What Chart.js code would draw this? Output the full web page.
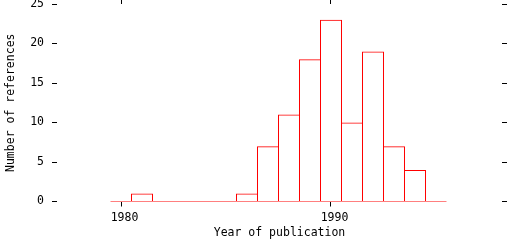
<!DOCTYPE html>
<html>
<head>
<meta charset="utf-8">
<title>References by year</title>
<script src="https://cdn.jsdelivr.net/npm/chart.js@4/dist/chart.umd.min.js"></script>
<style>
    html, body { margin: 0; padding: 0; background: #fff; }
    #wrap { width: 512px; height: 240px; }
</style>
</head>
<body>
<div id="wrap"><canvas id="histChart" width="512" height="240"></canvas></div>
<script>
// histogram data, one bin per year
const years = [1980, 1981, 1982, 1983, 1984, 1985, 1986, 1987, 1988, 1989, 1990, 1991, 1992, 1993, 1994, 1995];
const counts = [0, 1, 0, 0, 0, 0, 1, 7, 11, 18, 23, 10, 19, 7, 4, 0];
const yearTicks = [1980, 1990];
const countTicks = [0, 5, 10, 15, 20, 25];
const yearMin = 1976.95238;
const yearMax = 1998.14286;
const countMax = 25;

const RED = '#ff0000';
const INK = '#000000';
const monoFont = { family: '"DejaVu Sans Mono", "Liberation Mono", monospace', size: 11.5 };

function fixedTicks(list) {
    return scale => { scale.ticks = list.map(v => ({ value: v })); };
}

function tickGrid(len) {
    return { offset: false, drawOnChartArea: false, drawTicks: true, tickLength: len, color: INK, lineWidth: 1 };
}

function initChart() {
    const ctx = document.getElementById('histChart').getContext('2d');
    new Chart(ctx, {
        type: 'bar',
        data: {
            datasets: [
                {
                    type: 'bar',
                    data: years.map((yr, i) => ({ x: yr, y: counts[i] })),
                    backgroundColor: 'rgba(0,0,0,0)',
                    borderColor: RED,
                    borderWidth: 1,
                    borderSkipped: 'start',
                    inflateAmount: 0,
                    barThickness: 22,
                    xAxisID: 'x',
                    yAxisID: 'y'
                },
                {
                    // zero line under the bins
                    type: 'line',
                    data: [
                        { x: years[0] - 0.5, y: 0 },
                        { x: years[years.length - 1] + 0.5, y: 0 }
                    ],
                    borderColor: RED,
                    borderWidth: 1,
                    pointRadius: 0,
                    fill: false,
                    xAxisID: 'x',
                    yAxisID: 'y'
                }
            ]
        },
        options: {
            responsive: false,
            animation: false,
            devicePixelRatio: 1,
            layout: { padding: 0 },
            plugins: {
                legend: { display: false },
                tooltip: { enabled: false }
            },
            scales: {
                x: {
                    type: 'linear',
                    position: 'bottom',
                    offset: false,
                    min: yearMin,
                    max: yearMax,
                    afterBuildTicks: fixedTicks(yearTicks),
                    afterFit: s => { s.height = 38.5; s.paddingLeft = 0; s.paddingRight = 0; },
                    grid: tickGrid(5),
                    border: { display: false },
                    ticks: { color: INK, font: monoFont, padding: 5, labelOffset: 3.5, maxRotation: 0, autoSkip: false, callback: v => String(v) },
                    title: { display: true, text: 'Year of publication', color: INK, font: monoFont, padding: 0 }
                },
                xTop: {
                    type: 'linear',
                    position: 'top',
                    offset: false,
                    min: yearMin,
                    max: yearMax,
                    afterBuildTicks: fixedTicks(yearTicks),
                    afterFit: s => { s.height = 4; s.paddingLeft = 0; s.paddingRight = 0; },
                    grid: tickGrid(5),
                    border: { display: false },
                    ticks: { display: false }
                },
                y: {
                    type: 'linear',
                    position: 'left',
                    min: 0,
                    max: countMax,
                    afterBuildTicks: fixedTicks(countTicks),
                    afterFit: s => { s.width = 57; s.paddingTop = 0; s.paddingBottom = 0; },
                    grid: tickGrid(5),
                    border: { display: false },
                    ticks: { color: INK, font: monoFont, padding: 8 },
                    title: { display: true, text: 'Number of references', color: INK, font: monoFont, padding: 4 }
                },
                yRight: {
                    type: 'linear',
                    position: 'right',
                    min: 0,
                    max: countMax,
                    afterBuildTicks: fixedTicks(countTicks),
                    afterFit: s => { s.width = 10; s.paddingTop = 0; s.paddingBottom = 0; },
                    grid: tickGrid(5),
                    border: { display: false },
                    ticks: { display: false }
                }
            }
        }
    });
}

document.addEventListener('DOMContentLoaded', initChart);
</script>
</body>
</html>
